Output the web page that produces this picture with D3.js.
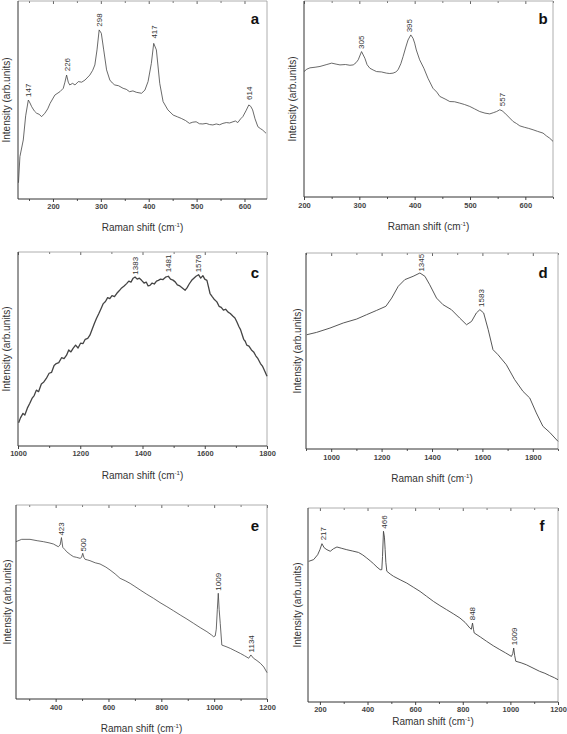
<!DOCTYPE html>
<html><head><meta charset="utf-8">
<script src="https://cdn.jsdelivr.net/npm/d3@7"></script>
<style>
html,body{margin:0;padding:0;background:#fff;}
svg{display:block;font-family:"Liberation Sans",Arial,sans-serif;}
</style></head>
<body>
<svg id="chart" width="567" height="734"></svg>
<script>
// ---------- Panel a ----------
const aX = [128,131,138,143,148.6,152,155.6,161,166,171,176.4,183,189,194,204,214.6,221.5,225,228.5,232,235,241,246,253,260,267,277,283,287.5,292,296.5,301,306,312,318.75,324,329,337,346.5,353,360,367,374,385,392,398.6,405.5,410.4,416,423,430,440,451,460,468,477,485,492,499,506,513,520,527,534,541,548,555,562,569,576,581,586,592,596.5,603,609,613,617,622,628,633,638,645];
const aY = [8.2,21.4,29.8,42,50,48.5,46.6,44.5,43.3,42.8,41.6,43.3,45.5,48.3,52.5,54.2,55.9,59,62.6,59,57.6,58.4,57.6,59.3,59,60.1,62.6,65,67.7,75.3,85.4,83.7,75.3,65.2,60.1,58.6,57.6,57.2,55.9,55.4,54.2,54.6,53.9,53.4,55,59.3,68.5,78.6,75.3,58.4,49.2,45,42.4,41.5,40.7,39.6,38.2,38.8,39,38,37.9,38.2,37.6,37.4,37.9,37.5,38.2,38.6,38.4,39,39.4,38.6,40.5,41.6,44.5,47.5,46.8,45,40.5,36.5,35.6,34.8,33.2];
const aTicks = [200,300,400,500,600];
const aPeakX = [148,229,296,412,609];
const aPeakY = [51,64,86.5,80.5,49.5];
const aPeakText = ["147","226","298","417","614"];

// ---------- Panel b ----------
const bX = [200,205,210.8,220,228.9,240,250,258,265,275,283,289,294,298,304,310,314,319,325,331,340,349,355,361,366,370,375,379,384,388,393,397,400,403,409,416.6,424,433,440,445.5,455,463.5,472,481.5,490,499.6,508,517.6,527,535.7,542,548,553.8,558,563,570,578,584,590,598,606,614,622,632,638,644,650];
const bY = [64,65.2,65.9,66.2,66.6,67.5,68.3,67.8,67.4,67.6,67.2,67.4,68.5,70,74.2,70.8,67.5,65.7,64.8,64,63.8,63.2,63,63.2,63.8,64.9,68,71.6,76.5,80.1,82.7,81,78.5,75,70,65.7,60.6,55.5,53.5,51.3,50,48.7,48.6,47.9,47.2,46.2,45,43.6,42.8,42.4,43,43.6,44.5,44,42.8,40.8,38.5,37.5,36.3,35.6,35,34.3,33.5,32.6,31.2,30,28.4];
const bTicks = [200,300,400,500,600];
const bPeakX = [304,391,558];
const bPeakY = [75,83.5,45.8];
const bPeakText = ["305","395","557"];

// ---------- Panel c ----------
const cX = [1002,1008,1016,1022,1030,1038,1045,1052,1059,1066,1075,1083,1091,1100,1108,1116,1123,1131,1140,1148,1156,1163,1170,1177,1185,1193,1201,1209,1216,1224,1231,1238,1245,1252,1259,1266,1274,1281,1288,1295,1302,1310,1317,1325,1333,1341,1349,1356,1363,1370,1376,1383,1390,1397,1405,1412,1418,1424,1431,1438,1445,1451,1458,1466,1474,1483,1490,1498,1505,1512,1520,1528,1537,1543,1550,1558,1565,1572,1580,1587,1594,1600,1607,1612,1617,1624,1631,1639,1646,1653,1660,1667,1675,1682,1690,1697,1703,1710,1715,1719,1725,1730,1735,1742,1750,1757,1764,1771,1779,1786,1793,1800];
const cY = [12,14.5,16.8,16,19.5,22,24.5,26,28.8,28,32,33,34.8,37.5,38,41.5,42.5,43,45.5,45,46.8,49.5,48.5,50.3,52,50.5,53,52.8,55,55.5,57.1,60,63,65.7,68,70.5,73.4,74.5,76.5,76,77.5,77,78.6,80,81.5,82.5,83.7,85,84.5,86.5,87.1,86,86.5,85.4,84,84.5,82.5,82.8,84,83.5,85,85.4,86,85.8,87,87.5,86,85.5,84.6,83,82.5,81.5,80.3,81.5,83.5,85.4,86.5,87.5,88.3,86.5,87.8,86,85.4,82,78.6,77,75.5,74.3,72,71.5,70,70.5,69,68.3,67,66,64,61.5,60,58,55,54,52,51.5,49.5,48.5,46.5,45,42.5,41,38.5,36];
const cTicks = [1000,1200,1400,1600,1800];
const cPeakX = [1376,1483,1580];
const cPeakY = [87.8,89,89];
const cPeakText = ["1383","1481","1576"];

// ---------- Panel d ----------
const dX = [903,942,995,1048,1101,1140,1180,1217,1240,1266,1292,1325,1352,1372,1391,1418,1444,1477,1510,1537,1557,1576,1590,1605,1623,1642,1662,1695,1728,1761,1788,1814,1840,1867,1900];
const dY = [58.3,59.5,61.7,64.3,66.3,68.5,70.7,72.8,77,83,86.4,88.1,89.8,88.1,83.8,77,73.6,71.1,66.8,63.4,65.1,69.4,71.1,69.4,60.9,50.7,48.1,43,35.4,29.4,26,18.4,11.6,8.5,3.9];
const dTicks = [1000,1200,1400,1600,1800];
const dPeakX = [1358,1596];
const dPeakY = [90,72];
const dPeakText = ["1345","1583"];

// ---------- Panel e ----------
const eX = [250,271.5,303,330,353.6,375,391.5,410,417,422,427,435,442,455,467,480,492.5,498,502.6,507,511.5,520,530,550,568,590,606,625,644,663,682,700,720,745,770.5,795,821,846,871.5,897,922,947,972.6,990,997.9,1004,1008,1012,1015.6,1019,1023,1029,1045,1061,1080,1099,1115,1130.6,1139,1149,1162,1175,1188,1200];
const eY = [81.1,82.3,82.3,81.6,81.1,80.5,79.9,78.5,79.4,83.2,78.2,77,75.9,74.5,73.4,73,72.5,73,75.1,73,72,71.7,71.3,70.2,69.6,68,66.5,64.5,62.2,61,59.6,58,56.2,54,51.9,49.7,47.6,45.5,43.3,41.2,39,36.8,34.7,33,32.1,32.5,36,46,54.5,46,39,27.8,27,26.1,24.8,23.5,22.3,21,22.7,21,19.8,18.4,16.5,13.6];
const eTicks = [400,600,800,1000,1200];
const ePeakX = [420.5,505,1014,1139];
const ePeakY = [83.7,75.5,55.3,23.5];
const ePeakText = ["423","500","1009","1134"];

// ---------- Panel f ----------
const fX = [152.8,173.7,190.5,200,208.6,218,229.6,243.5,257,271.5,292,313,338,362,380,397,411,425,440,453,460,463,467,471,474,477,481,495,509,537,564.7,592,620.6,648,676.4,704,732,760,788,810,830,836,841,845,848,874,899.8,928,955.7,980,1004.5,1010,1014,1018,1022.6,1045,1067,1095,1123,1145,1165,1185,1200];
const fY = [72.5,73.4,75.9,78.5,81.6,79.5,78.5,77.7,79,79.9,79.2,78.5,77.8,77.1,75.8,74.2,72.8,71.3,69.5,68.2,68.2,75,88,85,78.5,72,67.4,66,64.8,63,61.3,59.2,57,54.5,51.9,49.7,47.6,45.5,43.3,41,38.1,37.5,40.7,37.5,35.6,33.5,31.3,29,27,25.3,23.5,25,27.8,24,21,20.2,19.2,17.5,15.8,14.8,13.6,12.5,11.5];
const fTicks = [200,400,600,800,1000,1200];
const fPeakX = [213,470,841,1016];
const fPeakY = [82.8,88.8,41.6,28.7];
const fPeakText = ["217","466","848","1009"];

const panels = [
  {id:"a", X:aX, Y:aY, ticks:aTicks, minorStep:50, dom:[127,647], px:[18,267], py:[1,199], pk:[aPeakX,aPeakY,aPeakText], yt:6, tl:206, tt:227, lx:255, ly:24, sw:0.8},
  {id:"b", X:bX, Y:bY, ticks:bTicks, minorStep:50, dom:[200,650], px:[304,553], py:[1,197], pk:[bPeakX,bPeakY,bPeakText], yt:292, tl:205, tt:226, lx:543, ly:24, sw:0.8},
  {id:"c", X:cX, Y:cY, ticks:cTicks, minorStep:100, dom:[1000,1800], px:[18,267], py:[252,446], pk:[cPeakX,cPeakY,cPeakText], yt:6, tl:453, tt:475, lx:255, ly:278, sw:1.3},
  {id:"d", X:dX, Y:dY, ticks:dTicks, minorStep:100, dom:[900,1900], px:[306,558], py:[253,449], pk:[dPeakX,dPeakY,dPeakText], yt:297, tl:457, tt:478, lx:543, ly:278, sw:0.9},
  {id:"e", X:eX, Y:eY, ticks:eTicks, minorStep:100, dom:[250,1200], px:[16,267], py:[505,699], pk:[ePeakX,ePeakY,ePeakText], yt:7, tl:707, tt:728, lx:255, ly:531, sw:0.8},
  {id:"f", X:fX, Y:fY, ticks:fTicks, minorStep:100, dom:[150,1200], px:[308,558], py:[508,702], pk:[fPeakX,fPeakY,fPeakText], yt:297, tl:709.5, tt:721.5, lx:542, ly:531, sw:0.9}
];

const svg = d3.select("#chart");

panels.forEach(p => {
  const x = d3.scaleLinear().domain(p.dom).range(p.px);
  const y = d3.scaleLinear().domain([0,100]).range([p.py[1], p.py[0]]);
  const g = svg.append("g");
  const [x0,x1] = p.px, [y0,y1] = p.py;

  // minor ticks
  const minor = d3.range(Math.ceil(p.dom[0]/p.minorStep)*p.minorStep, p.dom[1]+0.01, p.minorStep)
    .filter(v => !p.ticks.includes(v));
  g.append("g").attr("transform",`translate(0,${y1})`)
    .call(d3.axisBottom(x).tickValues(minor).tickSize(2).tickFormat(""))
    .call(s=>s.select(".domain").remove())
    .call(s=>s.selectAll("line").attr("stroke","#555"));
  g.append("g").attr("transform",`translate(0,${y0})`)
    .call(d3.axisBottom(x).tickValues(minor).tickSize(2).tickFormat(""))
    .call(s=>s.select(".domain").remove())
    .call(s=>s.selectAll("line").attr("stroke","#777"));
  // major ticks bottom
  g.append("g").attr("transform",`translate(0,${y1})`)
    .call(d3.axisBottom(x).tickValues(p.ticks).tickSize(3).tickPadding(3).tickFormat(d3.format("d")))
    .call(s=>s.select(".domain").remove())
    .call(s=>s.selectAll("line").attr("stroke","#444"))
    .call(s=>s.selectAll("text").attr("font-size","7.5px").attr("font-weight","bold").attr("fill","#444")
      .attr("font-family","'Liberation Sans',Arial,sans-serif").attr("dy",null)
      .attr("y", p.tl - y1 + 2.5));
  // major ticks top (inward)
  g.append("g").attr("transform",`translate(0,${y0})`)
    .call(d3.axisBottom(x).tickValues(p.ticks).tickSize(3).tickFormat(""))
    .call(s=>s.select(".domain").remove())
    .call(s=>s.selectAll("line").attr("stroke","#666"));

  // frame
  g.append("line").attr("x1",x0).attr("x2",x1).attr("y1",y0).attr("y2",y0).attr("stroke","#999").attr("stroke-width",0.8);
  g.append("line").attr("x1",x1).attr("x2",x1).attr("y1",y0).attr("y2",y1).attr("stroke","#999").attr("stroke-width",0.8);
  g.append("line").attr("x1",x0).attr("x2",x1).attr("y1",y1).attr("y2",y1).attr("stroke","#333").attr("stroke-width",1);
  g.append("line").attr("x1",x0).attr("x2",x0).attr("y1",y0).attr("y2",y1).attr("stroke","#333").attr("stroke-width",1);

  // spectrum
  const pts = p.X.map((v,i)=>[v,p.Y[i]]);
  g.append("path").datum(pts)
    .attr("fill","none").attr("stroke","#444").attr("stroke-width",p.sw).attr("stroke-linejoin","round")
    .attr("d", d3.line().x(d=>x(d[0])).y(d=>y(d[1])));

  // peak labels
  const [px,py,pt] = p.pk;
  px.forEach((v,i)=>{
    const tx = x(v), ty = y(py[i]) - 1;
    g.append("text").attr("transform",`translate(${tx},${ty}) rotate(-90)`)
      .attr("dy","0.35em").attr("text-anchor","start")
      .attr("font-size","8px").attr("fill","#333").text(pt[i]);
  });

  // panel letter
  g.append("text").attr("x",p.lx).attr("y",p.ly).attr("text-anchor","middle")
    .attr("font-size","15px").attr("font-weight","bold").attr("fill","#111").text(p.id);

  // axis titles
  g.append("text").attr("transform",`translate(${p.yt + 4},${(y0+y1)/2}) rotate(-90)`)
    .attr("text-anchor","middle").attr("font-size","10px").attr("fill","#333").text("Intensity (arb.units)");
  const xt = g.append("text").attr("x",(x0+x1)/2).attr("y",p.tt + 3.5).attr("text-anchor","middle")
    .attr("font-size","10px").attr("fill","#333");
  xt.append("tspan").text("Raman shift (cm");
  xt.append("tspan").attr("font-size","6px").attr("dy","-4").text("-1");
  xt.append("tspan").attr("dy","4").text(")");
});
</script>
</body></html>
